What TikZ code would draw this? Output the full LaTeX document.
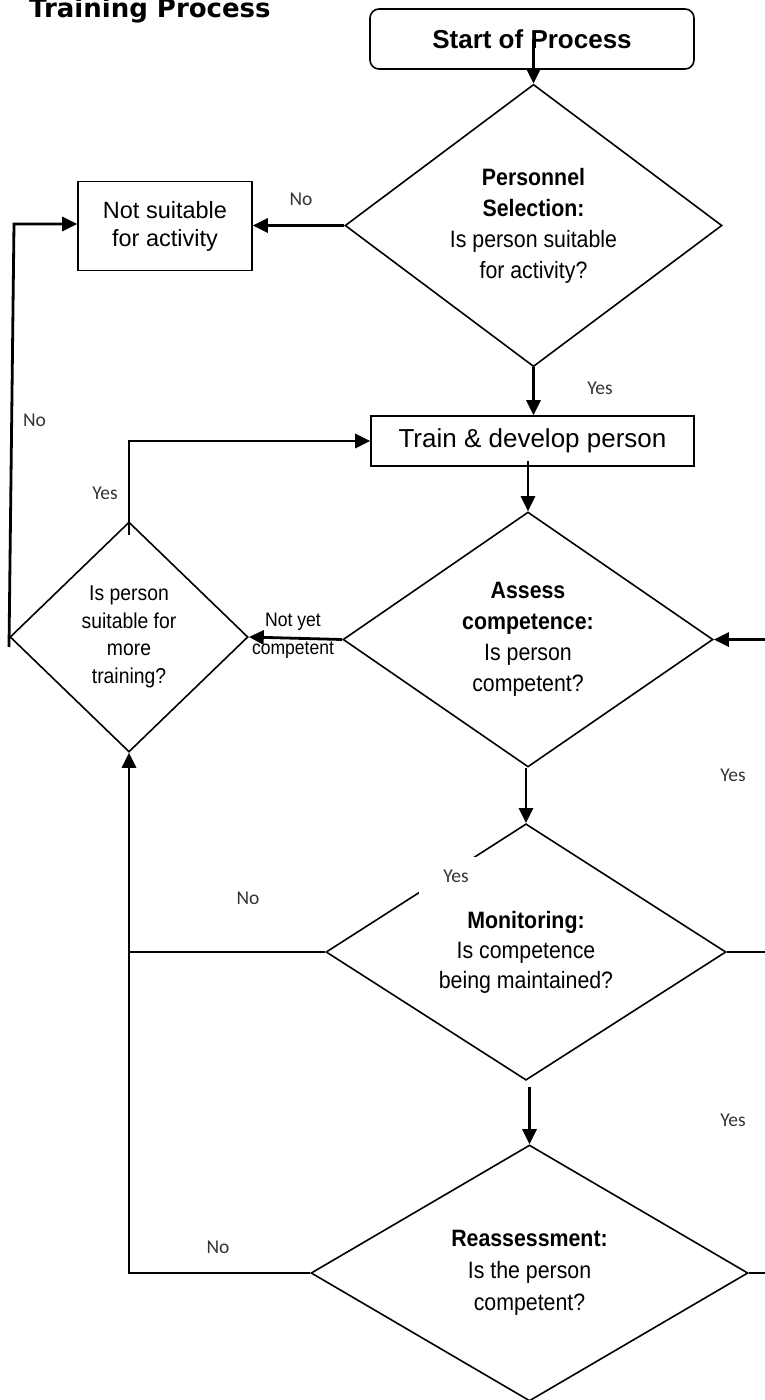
\documentclass[tikz,border=0pt]{standalone}
\usepackage{fontspec}
\setmainfont{Liberation Sans}
\newfontfamily\narrowfont{Liberation Sans}[FakeStretch=0.9]
\newfontfamily\lblfont{Carlito}
\newfontfamily\ttlfont{DejaVu Sans}
\usetikzlibrary{shapes.geometric,arrows.meta,calc}
\begin{document}
\begin{tikzpicture}[x=1pt,y=-1pt,
  dia/.style={draw, line width=1.6pt, diamond, inner sep=0pt, align=center, font=\narrowfont\fontsize{23.7}{31}\selectfont},
  box/.style={draw, line width=1.6pt, rectangle, inner sep=0pt, align=center},
  conn/.style={line width=2.8pt},
  arr/.style={conn, -{Triangle[length=15pt,width=14pt]}},
  lbl/.style={font=\lblfont\fontsize{19.5}{22}\selectfont, text=black!80, inner sep=0pt},
]
\useasboundingbox (0,0) rectangle (765,1400);

\node[anchor=base west, inner sep=0pt, font=\ttlfont\bfseries\fontsize{26}{30}\selectfont] (title) at (29,17) {Training Process};

\node[box, rounded corners=9pt, minimum width=324pt, minimum height=60pt, font=\bfseries\fontsize{26}{30}\selectfont] (start) at (532,39) {Start of Process};

\node[dia, minimum width=377pt, minimum height=263pt] (pers) at (533.5,225.5) {\textbf{Personnel}\\\textbf{Selection:}\\Is person suitable\\for activity?};

\node[box, minimum width=174pt, minimum height=89pt, font=\fontsize{23.5}{28}\selectfont] (notsuit) at (165,226) {Not suitable\\for activity};

\node[box, minimum width=323pt, minimum height=50pt, font=\fontsize{26}{30}\selectfont] (train) at (532.5,441) {Train \& develop person};

\node[dia, minimum width=370pt, minimum height=255pt] (assess) at (528,639.5) {\textbf{Assess}\\\textbf{competence:}\\Is person\\competent?};

\node[dia, minimum width=238pt, minimum height=230pt, font=\narrowfont\fontsize{21.5}{27.5}\selectfont] (small) at (129,637) {Is person\\suitable for\\more\\training?};

\node[dia, minimum width=400pt, minimum height=248pt, font=\narrowfont\fontsize{23.7}{30}\selectfont] (mon) at (526,952) {\textbf{Monitoring:}\\Is competence\\being maintained?};

\node[dia, minimum width=437pt, minimum height=256pt, font=\narrowfont\fontsize{23.7}{32}\selectfont] (reas) at (529.5,1273) {\textbf{Reassessment:}\\Is the person\\competent?};

% connectors
\draw[arr] (pers.north |- start.center) -- (pers.north);
\draw[arr] (pers.west) -- (pers.west -| notsuit.east);
\draw[arr] (pers.south) -- (pers.south |- train.north);
\draw[arr] ($(assess.north |- train.south)+(0,-6)$) -- (assess.north);
\draw[arr] (assess.west) -- (small.east);
\node[font=\narrowfont\fontsize{19.5}{28}\selectfont, align=center, inner sep=0pt] (nyc) at (293,636) {Not yet\\competent};
\draw[arr] ($(small.north)+(0,14)$) |- (train.west);
\coordinate (nl1) at (9,647);
\coordinate (nl2) at (14,224);
\draw[arr] (nl1) -- (nl2) -- (nl2 -| notsuit.west);
\draw[arr] (mon.north |- assess.south) -- (mon.north);
\draw[conn] (mon.west) -- (mon.west -| small.south);
\draw[arr] (reas.west) -| (small.south);
\draw[arr] ($(reas.north |- mon.south)+(0,6)$) -- (reas.north);
\coordinate (rA) at (765,639.5);
\draw[arr] (rA) -- (assess.east);
\coordinate (rM) at (765,952);
\draw[conn] (mon.east) -- (rM);
\coordinate (rR) at (765,1273);
\draw[conn] (reas.east) -- (rR);

% labels
\node[lbl] (no1) at (301,199) {No};
\node[lbl] (yes1) at (600,388) {Yes};
\node[lbl] (no2) at (34.5,420) {No};
\node[lbl] (yes2) at (105,493) {Yes};
\node[lbl] (yes3) at (733,775) {Yes};
\node[lbl, fill=white, minimum width=61pt, minimum height=38pt] (yes4) at (449.5,876) {\hspace{13pt}Yes};
\node[lbl] (no3) at (248,898) {No};
\node[lbl] (yes5) at (733,1120) {Yes};
\node[lbl] (no4) at (218,1247) {No};
\end{tikzpicture}
\end{document}
